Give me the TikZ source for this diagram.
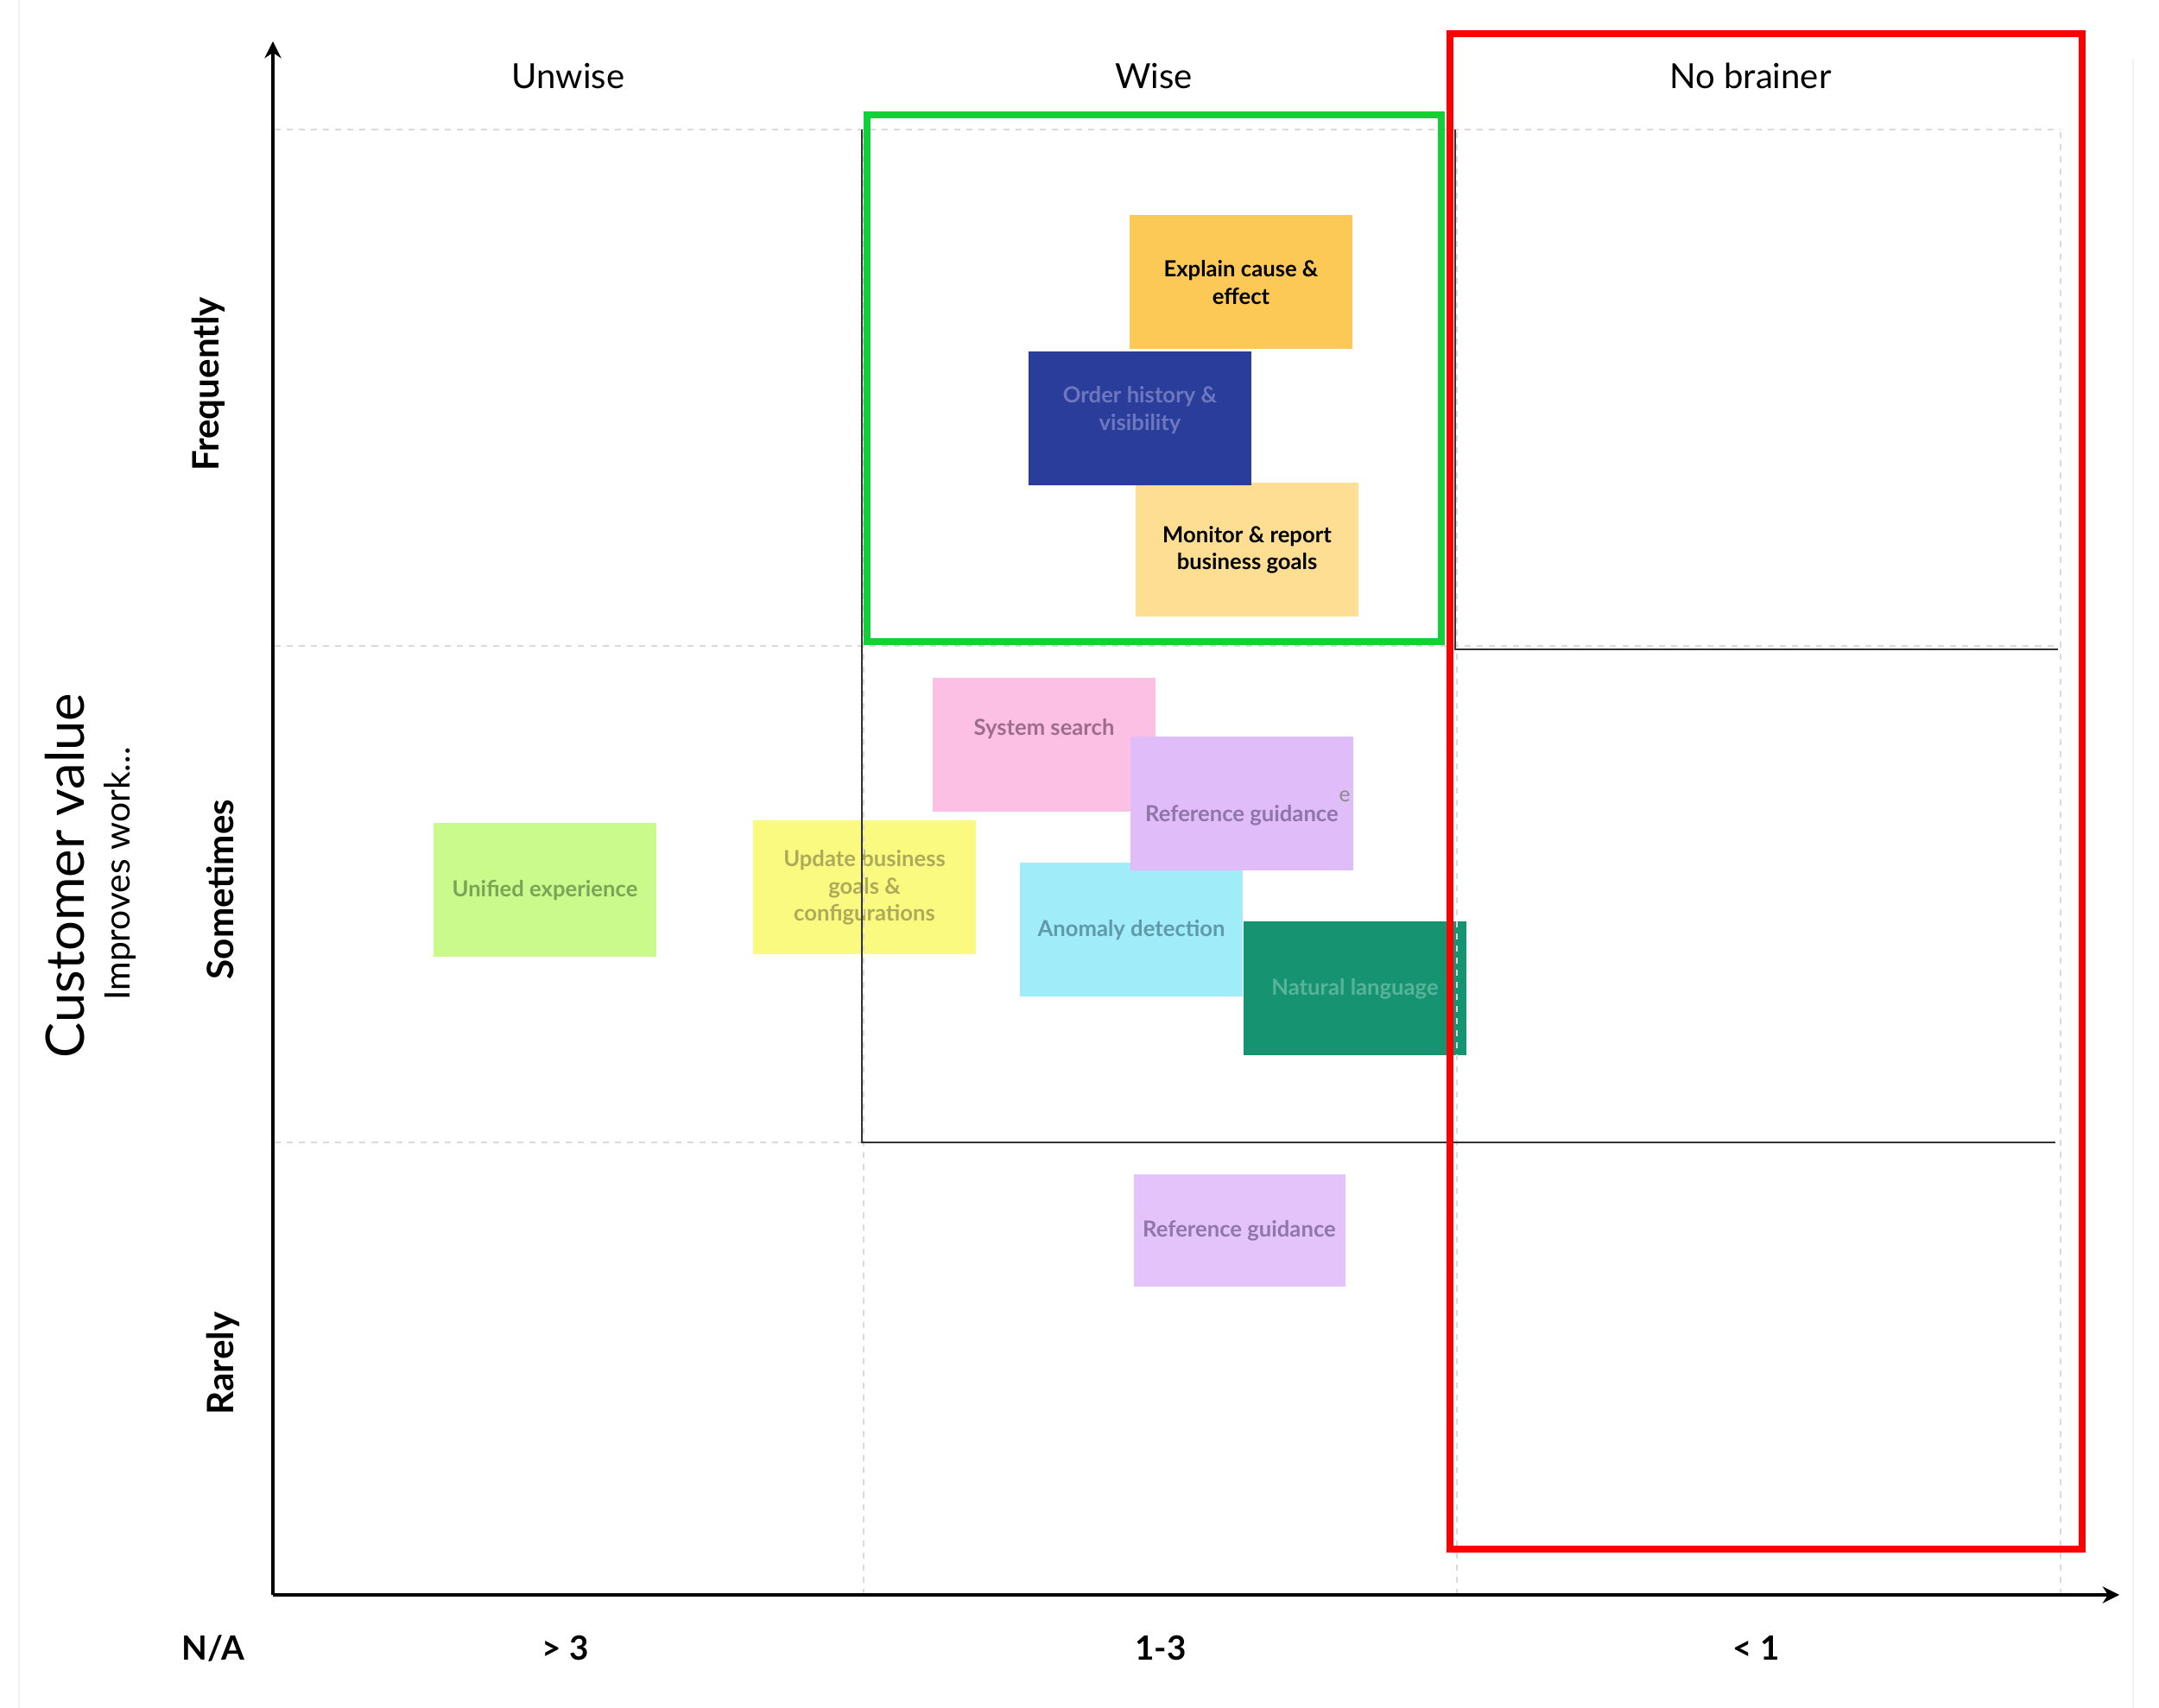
\documentclass[tikz,border=0pt]{standalone}
\usepackage{fontspec}
\setmainfont{Lato}
\usetikzlibrary{arrows.meta, positioning}
\definecolor{StickyOrange}{RGB}{253,201,86}
\definecolor{StickyPeach}{RGB}{253,222,147}
\definecolor{StickyBlue}{RGB}{43,61,155}
\definecolor{StickyPink}{RGB}{253,192,229}
\definecolor{StickyLilac}{RGB}{224,188,249}
\definecolor{StickyLime}{RGB}{201,250,139}
\definecolor{StickyYellow}{RGB}{251,250,128}
\definecolor{StickyCyan}{RGB}{160,236,249}
\definecolor{StickyTeal}{RGB}{22,148,114}
\definecolor{FrameGreen}{RGB}{18,208,58}
\definecolor{FrameRed}{RGB}{255,0,0}
\definecolor{GridGray}{RGB}{218,218,218}

\begin{document}
\begin{tikzpicture}[font=\fontsize{11.4}{13}\selectfont,
	nota/.style={rectangle, minimum width=2.58cm, minimum height=1.55cm,
		inner sep=0pt, align=center, font=\fontsize{7.3}{9}\selectfont\bfseries},
	borrosa/.style={text opacity=0.85},
	rejilla/.style={GridGray, line width=0.5pt, dash pattern=on 2pt off 2pt},
	divisoria/.style={black!80, line width=0.5pt},
	eje/.style={line width=1.4pt, -{Stealth[length=5.5pt, width=5.5pt]}},
	marco/.style={line width=2.3pt},
	fila/.style={rotate=90, font=\fontsize{12}{14}\selectfont\bfseries},
	columna/.style={font=\fontsize{11}{13}\selectfont\bfseries}]
	\fill[white] (0,0) rectangle (25,19.78);
	\useasboundingbox (0,0) rectangle (25,19.78);
	\draw[black!5, line width=0.6pt] (0.22,0) -- (0.22,19.78);
	\draw[black!5, line width=0.6pt] (24.70,0) -- (24.70,19.10);

	% notas adhesivas
	\node[nota, fill=StickyOrange] (causa) at (14.37,16.51) {Explain cause \&\\effect};
	\node[nota, fill=StickyPeach] (metas) at (14.44,13.41) {Monitor \& report\\business goals};
	\node[nota, fill=StickyBlue, borrosa, text={rgb,255:red,120;green,130;blue,196}]
		(historial) at (13.20,14.93) {Order history \&\\visibility\\[-2pt]};
	\node[nota, fill=StickyPink, borrosa, text={rgb,255:red,140;green,95;blue,125}]
		(busqueda) at (12.09,11.15) {System search\\[3pt]};
	\node[nota, fill=StickyCyan, borrosa, text={rgb,255:red,85;green,140;blue,155}]
		(anomalias) at (13.10,9.01) {Anomaly detection};
	\node[nota, fill=StickyLilac, borrosa, text={rgb,255:red,130;green,105;blue,155}]
		(guia) at (14.38,10.47) {\\[4pt]Reference guidance};
	\node[text=black!45, font=\fontsize{7}{9}\selectfont, inner sep=1pt] (letra) at (15.57,10.56) {e};
	\node[nota, fill=StickyLime, borrosa, text={rgb,255:red,110;green,150;blue,80}]
		(unificada) at (6.31,9.47) {Unified experience};
	\node[nota, fill=StickyYellow, borrosa, text={rgb,255:red,160;green,158;blue,85}]
		(configuracion) at (10.01,9.50) {Update business\\goals \&\\configurations};
	\node[nota, fill=StickyTeal, borrosa, text={rgb,255:red,100;green,185;blue,160}]
		(lenguaje) at (15.69,8.33) {Natural language};
	\node[nota, fill=StickyLilac!90, minimum width=2.45cm, minimum height=1.30cm, borrosa,
		text={rgb,255:red,130;green,105;blue,155}] (guia2) at (14.35,5.53) {Reference guidance};

	% rejilla
	\foreach \y in {18.28, 12.30, 6.55}{
		\draw[rejilla] (3.18,\y) -- (23.86,\y);
	}
	\foreach \x in {10.00, 16.87, 23.86}{
		\draw[rejilla] (\x,1.31) -- (\x,18.28);
	}
	\draw[divisoria] (9.98,18.28) -- (9.98,6.55) -- (23.80,6.55);
	\draw[divisoria] (16.85,18.28) -- (16.85,12.26) -- (23.83,12.26);

	% ejes
	\coordinate (origen) at (3.16,1.31);
	\coordinate (ytope) at (3.16,19.30);
	\coordinate (xfin) at (24.54,1.31);
	\draw[eje] (origen) -- (ytope);
	\draw[eje] (origen) -- (xfin);

	% marcos
	\draw[FrameGreen, marco] (10.04,12.35) rectangle (16.69,18.45);
	\draw[FrameRed, marco] (16.79,1.84) rectangle (24.11,19.39);

	% etiquetas
	\node (unwise) at (6.58,18.90) {Unwise};
	\node (wise) at (13.36,18.90) {Wise};
	\node (nobrainer) at (20.27,18.90) {No brainer};
	\node[columna] (na) at (2.47,0.69) {N/A};
	\node[columna] (mas3) at (6.55,0.69) {> 3};
	\node[columna] (uno3) at (13.44,0.69) {1-3};
	\node[columna] (menos1) at (20.34,0.69) {< 1};
	\node[fila] (frecuente) at (2.41,15.33) {Frequently};
	\node[fila] (aveces) at (2.55,9.48) {Sometimes};
	\node[fila] (rara) at (2.58,3.99) {Rarely};
	\node[rotate=90, font=\fontsize{17.5}{20}\selectfont] (valor) at (0.75,9.64) {Customer value};
	\node[rotate=90, font=\fontsize{11.6}{13}\selectfont] (mejora) at (1.39,9.66) {Improves work...};
\end{tikzpicture}
\end{document}
